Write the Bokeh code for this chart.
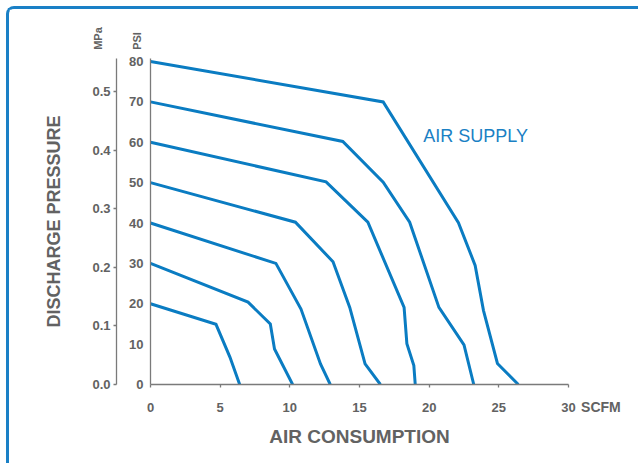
import math
from bokeh.plotting import figure
from bokeh.models import Range1d, LinearAxis, FixedTicker, PrintfTickFormatter, Label
from bokeh.embed import file_html
from bokeh.resources import INLINE

# ---- data (SCFM vs PSI) ----
x_20 = [0, 4.7, 5.7, 6.4]
y_20 = [20, 14.9, 6.8, 0]
x_30 = [0, 7.0, 8.6, 8.9, 10.2]
y_30 = [30, 20.4, 15.0, 8.8, 0]
x_40 = [0, 9.0, 10.8, 12.2, 12.9]
y_40 = [40, 30.0, 18.7, 5.1, 0]
x_50 = [0, 10.4, 13.1, 14.3, 15.4, 16.5]
y_50 = [50, 40.2, 30.4, 19.1, 5.1, 0]
x_60 = [0, 12.6, 15.6, 18.2, 18.4, 18.9, 19.0]
y_60 = [60, 50.2, 40.2, 19.1, 10.1, 4.7, 0]
x_70 = [0, 13.8, 16.7, 18.6, 20.7, 22.5, 23.2]
y_70 = [70, 60.2, 50.1, 40.2, 19.1, 9.8, 0]
x_80 = [0, 16.7, 22.1, 23.3, 23.9, 24.9, 26.4]
y_80 = [80, 70.0, 40.1, 29.5, 18.3, 5.2, 0]

x_ticks = [0, 5, 10, 15, 20, 25, 30]
psi_ticks = [0, 10, 20, 30, 40, 50, 60, 70, 80]
mpa_ticks = [0.0, 0.1, 0.2, 0.3, 0.4, 0.5]
PSI_TO_MPA = 0.00689476

GRAY = "#626262"
AXIS = "#7a7a7a"
BLUE = "#0a7cc2"
FONT = "Liberation Sans"

y_top = 80.75
p = figure(width=632, height=457, output_backend="svg", toolbar_location=None,
           x_range=Range1d(0, 30), y_range=Range1d(0, y_top),
           min_border_left=141, min_border_right=73, min_border_top=49, min_border_bottom=82,
           background_fill_color="white", border_fill_color="white",
           styles={"border-top": "3px solid #1a80c6", "border-left": "3px solid #1a80c6",
                   "border-top-left-radius": "8px", "margin-left": "6px", "margin-top": "6px"})
p.outline_line_color = None
p.grid.visible = False

p.extra_y_ranges = {"mpa": Range1d(0, y_top * PSI_TO_MPA)}

for xs, ys in [(x_20, y_20), (x_30, y_30), (x_40, y_40), (x_50, y_50),
               (x_60, y_60), (x_70, y_70), (x_80, y_80)]:
    p.line(xs, ys, line_color=BLUE, line_width=3, line_join="miter")

def style_axis(ax, size="13px"):
    ax.axis_line_color = AXIS
    ax.axis_line_width = 1.3
    ax.major_tick_line_color = AXIS
    ax.major_tick_line_width = 1.3
    ax.minor_tick_line_color = None
    ax.major_label_text_font = FONT
    ax.major_label_text_font_style = "bold"
    ax.major_label_text_font_size = size
    ax.major_label_text_color = GRAY
    ax.axis_label_text_font = FONT
    ax.axis_label_text_font_style = "bold"
    ax.axis_label_text_color = GRAY

xa = p.xaxis[0]
xa.ticker = FixedTicker(ticks=x_ticks)
style_axis(xa)
xa.major_tick_out = 3
xa.major_tick_in = 0
xa.major_label_standoff = 15
xa.axis_label = "AIR CONSUMPTION"
xa.axis_label_text_font_size = "19px"
xa.axis_label_standoff = 11

ya = p.yaxis[0]
ya.ticker = FixedTicker(ticks=psi_ticks)
style_axis(ya)
ya.major_tick_out = 0
ya.major_tick_in = 0
ya.major_label_standoff = 7
ya.axis_label = " "
ya.axis_label_standoff = 0
ya.axis_label_text_font_size = "7px"

mpa = LinearAxis(y_range_name="mpa", ticker=FixedTicker(ticks=mpa_ticks),
                 formatter=PrintfTickFormatter(format="%.1f"))
style_axis(mpa)
mpa.major_tick_out = 3
mpa.major_tick_in = 0
mpa.major_label_standoff = 3
mpa.axis_label = "DISCHARGE PRESSURE"
mpa.axis_label_text_font_size = "18px"
mpa.axis_label_standoff = 25
p.add_layout(mpa, "left")

def lab(text, x, y, size, angle=0, align="center", baseline="middle", color=GRAY,
        style="bold", place="center"):
    p.add_layout(Label(x=x, y=y, text=text, angle=angle, text_align=align,
                       text_baseline=baseline, text_font=FONT, text_font_size=size,
                       text_font_style=style, text_color=color), place)

lab("MPa", -3.74, 82.9, "11px", angle=math.pi / 2, align="left", place="left")
lab("PSI", -0.97, 82.9, "11px", angle=math.pi / 2, align="left", place="left")
lab("SCFM", 30.9, -5.57, "14px", align="left", place="below")
lab("AIR SUPPLY", 19.58, 61.66, "18px", align="left", color="#1a80c4", style="normal")

open("out.html", "w").write(file_html(p, INLINE))
